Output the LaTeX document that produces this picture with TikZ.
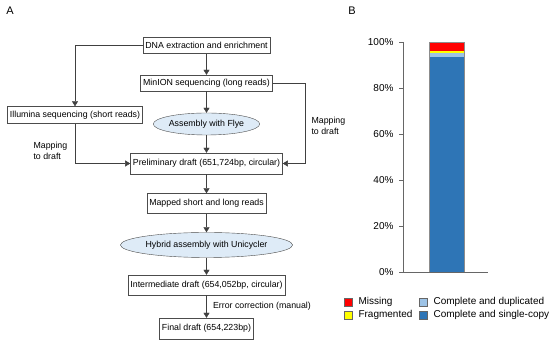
\documentclass[tikz,border=0pt]{standalone}
\usepackage{fontspec}
\setmainfont{Liberation Sans}
\usetikzlibrary{arrows.meta,shapes.geometric}
\definecolor{ellfill}{HTML}{DEEBF7}
\definecolor{scblue}{HTML}{2E75B6}
\definecolor{dupblue}{HTML}{9DC3E6}
\definecolor{fragyel}{HTML}{FFFF00}
\definecolor{missred}{HTML}{FF0000}
\begin{document}
\begin{tikzpicture}[x=1pt,y=-1pt,
  flow/.style={font=\fontsize{8.8}{10.5}\selectfont},
  box/.style={flow,draw=black!70,fill=white,inner xsep=2.5pt,inner ysep=0pt,minimum height=16pt},
  ell/.style={flow,ellipse,draw=black!70,fill=ellfill,inner sep=0pt},
  arr/.style={draw=black!75,-{Triangle[length=5pt,width=6pt]}},
  chart/.style={font=\fontsize{10}{12}\selectfont},
  key/.style={draw=black!60,line width=0.4pt}]
  \useasboundingbox (0,0) rectangle (550,344);
  % panel letters
  \node[font=\fontsize{11}{13}\selectfont] (pa) at (10,11) {A};
  \node[font=\fontsize{11}{13}\selectfont] (pb) at (352,11) {B};
  % flow chart
  \node[box] (dna) at (206.5,45.5) {DNA extraction and enrichment};
  \node[box] (minion) at (206.5,83) {MinION sequencing (long reads)};
  \node[box,minimum height=17pt] (illumina) at (75,115) {Illumina sequencing (short reads)};
  \node[ell,minimum width=103pt,minimum height=22pt] (flye) at (206.5,124) {Assembly with Flye};
  \node[box,minimum height=21pt] (prelim) at (206.5,163.5) {Preliminary draft (651,724bp, circular)};
  \node[box,minimum height=20pt] (mapped) at (206.5,203.5) {Mapped short and long reads};
  \node[ell,minimum width=142pt,minimum height=25pt] (unicycler) at (206.5,245) {Hybrid assembly with Unicycler};
  \node[box,minimum height=20pt] (inter) at (206.5,285) {Intermediate draft (654,052bp, circular)};
  \node[box,minimum height=21pt] (final) at (206.5,328.5) {Final draft (654,223bp)};
  \coordinate (rbend) at (305,83);
  \draw[arr] (dna) -- (minion);
  \draw[arr] (dna.west) -| (illumina.north);
  \draw[arr] (minion) -- (flye);
  \draw[arr] (flye) -- (prelim);
  \draw[arr] (illumina.south) |- (prelim.west);
  \draw[arr] (minion.east) -- (rbend) |- (prelim.east);
  \draw[arr] (prelim) -- (mapped);
  \draw[arr] (mapped) -- (unicycler);
  \draw[arr] (unicycler) -- (inter);
  \draw[arr] (inter) -- node[flow,right=3pt] (errcorr) {Error correction (manual)} (final);
  \node[flow,anchor=west,align=left] (mapleft) at (30,151) {Mapping\\to draft};
  \node[flow,anchor=west,align=left] (mapright) at (308,126) {Mapping\\to draft};
  % bar chart
  \fill[scblue] (429,272) rectangle (464,57);
  \fill[dupblue] (429,57) rectangle (464,53);
  \fill[fragyel] (429,53) rectangle (464,51.4);
  \fill[missred] (429,51.4) rectangle (464,42);
  \draw[black!45,line width=0.4pt] (429,272) rectangle (464,42);
  \draw[black!60] (403,42) -- (403,272) -- (488,272);
  \foreach \p in {0,20,...,100}{
    \draw[black!60] (399,272-2.3*\p) -- (403,272-2.3*\p);
    \node[chart,anchor=east] (tick\p) at (397,272-2.3*\p) {\p\%};
  }
  % legend
  \fill[missred] (344,298) rectangle (352,306);
  \draw[key] (344,298) rectangle (352,306);
  \fill[fragyel] (344,311) rectangle (352,319);
  \draw[key] (344,311) rectangle (352,319);
  \fill[dupblue] (419,298) rectangle (427,306);
  \draw[key] (419,298) rectangle (427,306);
  \fill[scblue] (419,311) rectangle (427,319);
  \draw[key] (419,311) rectangle (427,319);
  \node[chart,anchor=west] (kmiss) at (355,302) {Missing};
  \node[chart,anchor=west] (kfrag) at (355,315) {Fragmented};
  \node[chart,anchor=west] (kdup) at (430,302) {Complete and duplicated};
  \node[chart,anchor=west] (ksc) at (430,315) {Complete and single-copy};
\end{tikzpicture}
\end{document}
